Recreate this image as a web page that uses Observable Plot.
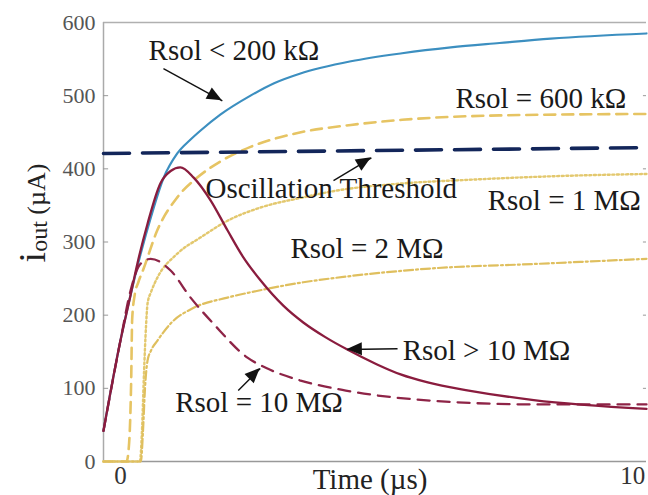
<!DOCTYPE html>
<html><head><meta charset="utf-8">
<script src="https://cdn.jsdelivr.net/npm/d3@7"></script>
<script src="https://cdn.jsdelivr.net/npm/@observablehq/plot@0.6"></script>
<style>body{margin:0;background:#fff}svg{display:block}</style>
</head><body><div id="chart"></div>
<script>
// ---- axis ticks ----
const xTicks = [0, 10];
const yTicks = [0, 100, 200, 300, 400, 500, 600];
const xDomain = [-0.33, 10.27];
const yDomain = [0, 600];

// ---- series (time in µs, current in µA) ----
const tLow = [-0.33, 0, 0.2, 0.4, 0.6, 0.84, 1.11, 1.37, 1.56, 1.95, 2.54, 3.0, 3.5, 4.5, 5.5, 6.45, 7.4, 8.4, 10.27];
const iLow = [42, 165, 228, 285, 335, 387, 421, 440, 452, 474, 500, 517, 530, 547, 558, 566, 572, 578, 585];

const t600k = [-0.33, 0.12, 0.17, 0.21, 0.23, 0.28, 0.35, 0.45, 0.72, 1.11, 1.5, 1.95, 2.54, 3.46, 4.5, 5.5, 7.4, 10.27];
const i600k = [0, 0, 25, 110, 195, 228, 245, 263, 316, 361, 388, 410, 430, 449, 460, 467, 473, 475];

const t1M = [-0.33, 0.38, 0.42, 0.46, 0.5, 0.53, 0.6, 0.72, 1.11, 1.56, 2.09, 2.73, 3.57, 4.2, 5.5, 6.8, 8.5, 10.27];
const i1M = [0, 0, 40, 120, 185, 216, 232, 251, 284, 306, 329, 347, 361, 370, 380, 385, 390, 393];

const t2M = [-0.33, 0.4, 0.44, 0.48, 0.53, 0.6, 0.72, 1.0, 1.43, 2.09, 2.73, 3.57, 4.2, 6.1, 8.1, 10.27];
const i2M = [0, 0, 40, 100, 138, 152, 165, 190, 210, 224, 234, 245, 251, 264, 270, 277];

const t10M = [-0.33, 0, 0.2, 0.39, 0.59, 0.98, 1.37, 1.82, 2.48, 2.87, 3.5, 4.4, 6.1, 8.1, 10.27];
const i10M = [42, 165, 234, 270, 277, 261, 224, 188, 142, 127, 111, 97, 83, 78, 78];

const tHigh = [-0.33, 0, 0.2, 0.33, 0.53, 0.78, 0.98, 1.17, 1.43, 1.76, 2.09, 2.4, 2.73, 3.18, 3.57, 4.0, 4.43, 5.0, 5.47, 6.0, 6.8, 8.07, 10.27];
const iHigh = [42, 165, 228, 270, 325, 380, 397, 402, 388, 357, 316, 279, 248, 213, 190, 170, 153, 133, 119, 108, 97, 84, 72];

const tThresh = [-0.33, 10.27];
const iThresh = [421, 429];

// ---- annotations ----
const annoText = ["Rsol < 200 kΩ", "Rsol = 600 kΩ", "Oscillation Threshold", "Rsol = 1 MΩ", "Rsol = 2 MΩ", "Rsol > 10 MΩ", "Rsol = 10 MΩ"];
const annoT = [0.55, 6.54, 1.66, 7.17, 3.32, 5.51, 1.07];
const annoI = [561, 496, 373, 357, 291, 152, 81];

const arrowT1 = [0.84, 4.16, 5.41, 2.30];
const arrowI1 = [537, 384, 154, 97];
const arrowT2 = [1.99, 4.90, 4.43, 2.73];
const arrowI2 = [493, 415, 153, 127];

const toRows = (t, i) => t.map((d, k) => ({t: d, i: i[k]}));
const arrows = arrowT1.map((d, k) => ({x1: d, y1: arrowI1[k], x2: arrowT2[k], y2: arrowI2[k]}));
const annos = annoText.map((s, k) => ({s, t: annoT[k], i: annoI[k]}));

const serif = "'Liberation Serif', 'Times New Roman', serif";
const line = (t, i, o) => Plot.line(toRows(t, i), {x: "t", y: "i", curve: "monotone-x", strokeLinejoin: "round", ...o});

const chart = Plot.plot({
  width: 648, height: 495,
  marginLeft: 103, marginRight: 2, marginTop: 22, marginBottom: 34,
  x: {domain: xDomain},
  y: {domain: yDomain},
  style: {fontFamily: serif, background: "#fff", overflow: "visible"},
  marks: [
    Plot.ruleY([yDomain[1]], {stroke: "#b0b0b0", strokeWidth: 1.5}),
    Plot.ruleY([yDomain[0]], {stroke: "#999", strokeWidth: 1.5}),
    Plot.ruleX([xDomain[0]], {stroke: "#aaa", strokeWidth: 1.5}),
    Plot.ruleY(yTicks.slice(1, -1), {x1: xDomain[0], x2: xDomain[0] + 0.1, stroke: "#999"}),
    Plot.ruleY(yTicks.slice(1, -1), {x1: xDomain[1] - 0.06, x2: xDomain[1], stroke: "#999"}),
    Plot.axisY(yTicks, {tickSize: 0, tickPadding: 8, fontSize: 22, fill: "#555", label: null}),
    Plot.axisX(xTicks, {tickSize: 0, tickPadding: 5, fontSize: 25, fill: "#333", label: null}),
    Plot.text(["Time (µs)"], {frameAnchor: "bottom", dx: -5, dy: 18, lineAnchor: "middle", fontSize: 29, fill: "#222"}),
    line(t600k, i600k, {stroke: "#e6c463", strokeWidth: 2.6, strokeDasharray: "11,7"}),
    line(t1M, i1M, {stroke: "#e3c86e", strokeWidth: 2.4, strokeDasharray: "2,2.6"}),
    line(t2M, i2M, {stroke: "#dfbf5e", strokeWidth: 2.2, strokeDasharray: "9,3,2,3"}),
    line(tLow, iLow, {stroke: "#3c8fc0", strokeWidth: 2.2}),
    line(t10M, i10M, {stroke: "#8e2447", strokeWidth: 2.3, strokeDasharray: "12,8"}),
    line(tHigh, iHigh, {stroke: "#8a1c3e", strokeWidth: 2.3}),
    line(tThresh, iThresh, {stroke: "#13265a", strokeWidth: 3.6, strokeDasharray: "26,13"}),
    Plot.link(arrows, {x1: "x1", y1: "y1", x2: "x2", y2: "y2", stroke: "#111", strokeWidth: 1.4}),
    Plot.text(annos, {x: "t", y: "i", text: "s", textAnchor: "start", lineAnchor: "middle", fontSize: 29, fill: "#1a1a1a"})
  ]
});

// filled arrow heads and the y-axis label (positions from Plot's own scales)
const sx = chart.scale("x"), sy = chart.scale("y");
const svg = d3.select(chart);
arrows.forEach(a => {
  const x1 = sx.apply(a.x1), y1 = sy.apply(a.y1), x2 = sx.apply(a.x2), y2 = sy.apply(a.y2);
  const ang = Math.atan2(y2 - y1, x2 - x1), L = 15, W = 6.5;
  const bx = x2 - L * Math.cos(ang), by = y2 - L * Math.sin(ang);
  const px = -Math.sin(ang) * W, py = Math.cos(ang) * W;
  svg.append("polygon")
    .attr("points", `${x2},${y2} ${bx + px},${by + py} ${bx - px},${by - py}`)
    .attr("fill", "#111");
});
const yl = svg.append("text")
  .attr("transform", "translate(45,213) rotate(-90)")
  .attr("text-anchor", "middle")
  .attr("font-family", serif).attr("fill", "#222");
yl.append("tspan").attr("font-size", 38).text("i");
yl.append("tspan").attr("font-size", 24).attr("dy", 2).text("out");
yl.append("tspan").attr("font-size", 26).attr("dy", -2).text(" (µA)");

document.getElementById("chart").appendChild(chart);
</script>
</body></html>
